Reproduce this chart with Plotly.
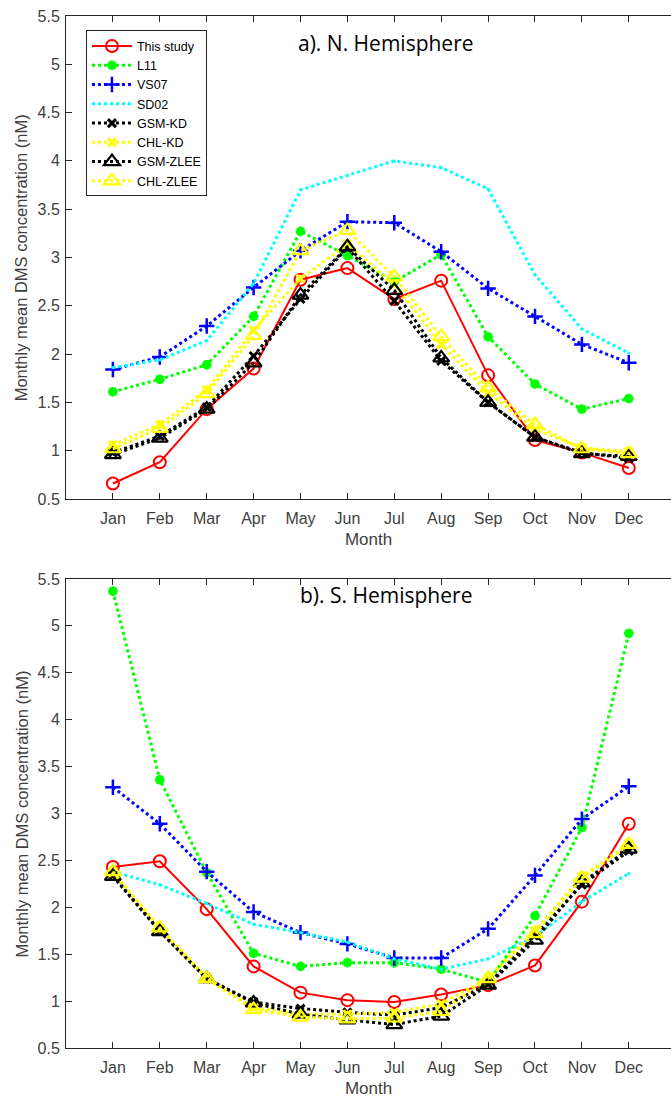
import plotly.graph_objects as go
from plotly.subplots import make_subplots

months = ["Jan", "Feb", "Mar", "Apr", "May", "Jun", "Jul", "Aug", "Sep", "Oct", "Nov", "Dec"]
month_pos = list(range(1, 13))

# N. Hemisphere
nh_this_study = [0.66, 0.88, 1.43, 1.85, 2.77, 2.89, 2.57, 2.76, 1.78, 1.11, 0.98, 0.82]
nh_l11 = [1.61, 1.74, 1.89, 2.39, 3.27, 3.02, 2.75, 3.03, 2.18, 1.69, 1.43, 1.54]
nh_vs07 = [1.84, 1.97, 2.29, 2.69, 3.07, 3.37, 3.36, 3.06, 2.68, 2.39, 2.10, 1.91]
nh_sd02 = [1.86, 1.94, 2.14, 2.73, 3.70, 3.85, 4.00, 3.93, 3.71, 2.82, 2.26, 2.01]
nh_gsm_kd = [0.98, 1.15, 1.45, 1.98, 2.57, 3.10, 2.55, 1.93, 1.50, 1.14, 0.98, 0.92]
nh_chl_kd = [1.06, 1.27, 1.63, 2.25, 2.78, 3.14, 2.72, 2.10, 1.60, 1.22, 1.03, 0.99]
nh_gsm_zlee = [0.96, 1.13, 1.43, 1.91, 2.61, 3.11, 2.66, 1.96, 1.50, 1.14, 0.97, 0.94]
nh_chl_zlee = [1.02, 1.23, 1.59, 2.19, 3.07, 3.28, 2.80, 2.18, 1.65, 1.27, 1.02, 0.97]

# S. Hemisphere
sh_this_study = [2.43, 2.49, 1.98, 1.37, 1.09, 1.01, 0.99, 1.07, 1.17, 1.38, 2.06, 2.89]
sh_l11 = [5.37, 3.36, 2.37, 1.51, 1.37, 1.41, 1.41, 1.34, 1.20, 1.91, 2.85, 4.92]
sh_vs07 = [3.28, 2.89, 2.38, 1.95, 1.73, 1.61, 1.46, 1.46, 1.77, 2.34, 2.94, 3.29]
sh_sd02 = [2.38, 2.24, 2.04, 1.82, 1.73, 1.63, 1.45, 1.34, 1.45, 1.69, 2.06, 2.36]
sh_gsm_kd = [2.34, 1.75, 1.24, 0.99, 0.92, 0.88, 0.85, 0.93, 1.18, 1.70, 2.24, 2.60]
sh_chl_kd = [2.37, 1.78, 1.25, 0.93, 0.86, 0.86, 0.88, 0.97, 1.25, 1.75, 2.33, 2.68]
sh_gsm_zlee = [2.33, 1.74, 1.24, 0.98, 0.86, 0.80, 0.75, 0.84, 1.17, 1.65, 2.26, 2.62]
sh_chl_zlee = [2.38, 1.78, 1.24, 0.91, 0.83, 0.81, 0.82, 0.89, 1.24, 1.72, 2.31, 2.67]

series_names = ["This study", "L11", "VS07", "SD02", "GSM-KD", "CHL-KD", "GSM-ZLEE", "CHL-ZLEE"]
nh_data = [nh_this_study, nh_l11, nh_vs07, nh_sd02, nh_gsm_kd, nh_chl_kd, nh_gsm_zlee, nh_chl_zlee]
sh_data = [sh_this_study, sh_l11, sh_vs07, sh_sd02, sh_gsm_kd, sh_chl_kd, sh_gsm_zlee, sh_chl_zlee]

yticks = [0.5, 1, 1.5, 2, 2.5, 3, 3.5, 4, 4.5, 5, 5.5]
ytick_text = ["0.5", "1", "1.5", "2", "2.5", "3", "3.5", "4", "4.5", "5", "5.5"]

styles = [
    dict(color="#ff0000", dash="solid", width=2, symbol="circle-open", size=12, mlw=2),
    dict(color="#00ff00", dash="dot", width=3, symbol="asterisk-open", size=8, mlw=3),
    dict(color="#0000ff", dash="dot", width=3, symbol="cross-thin-open", size=11, mlw=2.5),
    dict(color="#00ffff", dash="dot", width=3, symbol="circle", size=3, mlw=0),
    dict(color="#000000", dash="dot", width=3, symbol="x-thin-open", size=8, mlw=3),
    dict(color="#ffff00", dash="dot", width=3, symbol="x-thin-open", size=8, mlw=3),
    dict(color="#000000", dash="dot", width=3, symbol="triangle-up-open", size=14, mlw=2.2),
    dict(color="#ffff00", dash="dot", width=3, symbol="triangle-up-open", size=14, mlw=2.2),
]

fig = make_subplots(rows=2, cols=1, vertical_spacing=0.0)

for row, data in ((1, nh_data), (2, sh_data)):
    for name, vals, st in zip(series_names, data, styles):
        fig.add_trace(go.Scatter(
            x=month_pos, y=vals, name=name, mode="lines+markers",
            line=dict(color=st["color"], dash=st["dash"], width=st["width"]),
            marker=dict(symbol=st["symbol"], size=st["size"], color=st["color"],
                        line=dict(color=st["color"], width=st["mlw"])),
            showlegend=(row == 1),
        ), row=row, col=1)

axis_color = "#262626"
base_font = "Liberation Sans, Arial, sans-serif"
tick_font = dict(family=base_font, size=16, color="#404040")

for r in (1, 2):
    fig.update_xaxes(
        range=[0, 12.9], tickmode="array", tickvals=month_pos, ticktext=months,
        showgrid=False, zeroline=False, showline=True, linecolor=axis_color, linewidth=1,
        mirror="ticks", ticks="inside", ticklen=6, tickcolor=axis_color, tickwidth=1,
        tickfont=tick_font, ticklabelstandoff=5,
        title=dict(text="Month", font=dict(family=base_font, size=17, color="#404040"), standoff=6),
        row=r, col=1)
    fig.update_yaxes(
        range=[0.5, 5.5], tickmode="array", tickvals=yticks, ticktext=ytick_text,
        showgrid=False, zeroline=False, showline=True, linecolor=axis_color, linewidth=1,
        mirror=False, ticks="inside", ticklen=6, tickcolor=axis_color, tickwidth=1,
        tickfont=tick_font, ticklabelstandoff=2,
        row=r, col=1)

fig.update_layout(
    xaxis=dict(domain=[0, 1]), xaxis2=dict(domain=[0, 1]),
    yaxis=dict(domain=[0.532, 1.0]), yaxis2=dict(domain=[0.0, 0.4545]),
)

title_font = dict(family="Open Sans, Noto Sans, sans-serif", size=21, color="#000000")
ylabel_font = dict(family=base_font, size=16.5, color="#404040")
annotations = [
    dict(text="a). N. Hemisphere", x=0.529, y=0.9738, xref="paper", yref="paper",
         xanchor="center", yanchor="middle", showarrow=False, font=title_font),
    dict(text="b). S. Hemisphere", x=0.529, y=0.439, xref="paper", yref="paper",
         xanchor="center", yanchor="middle", showarrow=False, font=title_font),
    dict(text="Monthly mean DMS concentration (nM)", x=-0.073, y=0.766, xref="paper", yref="paper",
         xanchor="center", yanchor="middle", textangle=-90, showarrow=False, font=ylabel_font),
    dict(text="Monthly mean DMS concentration (nM)", x=-0.073, y=0.227, xref="paper", yref="paper",
         xanchor="center", yanchor="middle", textangle=-90, showarrow=False, font=ylabel_font),
]

fig.update_layout(
    width=671, height=1099,
    margin=dict(l=66, r=0, t=16, b=51),
    paper_bgcolor="white", plot_bgcolor="white",
    annotations=annotations,
    legend=dict(
        x=0.033, y=0.986, xanchor="left", yanchor="top",
        bgcolor="white", bordercolor="#262626", borderwidth=1,
        font=dict(family=base_font, size=12.5, color="#000000"),
        tracegroupgap=0, itemwidth=40,
    ),
)

fig.write_html("out.html")
